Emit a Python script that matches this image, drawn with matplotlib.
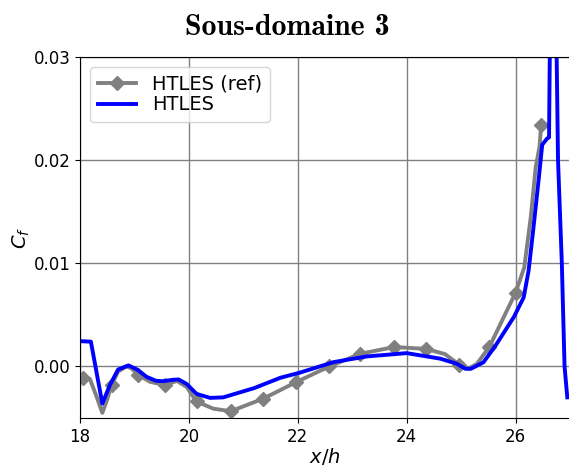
import matplotlib
matplotlib.use('Agg')
import matplotlib.pyplot as plt

# frottement parietal, reference HTLES
x_ref = [18.0, 18.06, 18.18, 18.31, 18.41, 18.5, 18.58, 18.7, 18.85, 18.95, 19.06, 19.29,
         19.56, 19.78, 19.96, 20.14, 20.45, 20.77, 21.36, 21.97, 22.58, 23.15, 23.77, 24.36,
         24.7, 24.97, 25.14, 25.29, 25.52, 26.0, 26.16, 26.28, 26.37, 26.44, 26.47]
cf_ref = [-0.0010, -0.00117, -0.0012, -0.0030, -0.0045, -0.0032, -0.0018, -0.0005, 0.0,
          -0.0002, -0.0008, -0.0015, -0.0018, -0.0014, -0.0020, -0.0034, -0.0041, -0.00434,
          -0.00314, -0.00152, 0.0, 0.00123, 0.00188, 0.0017, 0.0012, 0.00016, -0.0002,
          0.00025, 0.0019, 0.00715, 0.0096, 0.0145, 0.0193, 0.0213, 0.0234]
marqueurs = [1, 6, 10, 12, 15, 17, 18, 19, 20, 21, 22, 23, 25, 28, 29, 34]

# frottement parietal, calcul HTLES
x_htles = [18.0, 18.2, 18.41, 18.55, 18.7, 18.89, 19.05, 19.22, 19.4, 19.53, 19.7, 19.81,
           19.96, 20.14, 20.39, 20.63, 21.2, 21.68, 22.04, 22.66, 23.27, 24.0, 24.62, 24.92,
           25.08, 25.18, 25.41, 25.63, 25.97, 26.15, 26.24, 26.33, 26.43, 26.49, 26.58,
           26.615, 26.68, 26.78, 26.85, 26.9, 26.95]
cf_htles = [0.00245, 0.0024, -0.0036, -0.0018, -0.0003, 0.0001, -0.0003, -0.0010, -0.0014,
            -0.00143, -0.0013, -0.00126, -0.0017, -0.00266, -0.00305, -0.0030, -0.0021,
            -0.0011, -0.0006, 0.00042, 0.00097, 0.00129, 0.00075, 0.00026, -0.00023,
            -0.00023, 0.0004, 0.0020, 0.0048, 0.0067, 0.0093, 0.0135, 0.0184, 0.0215,
            0.0221, 0.0222, 0.06, 0.02, 0.01, 0.0, -0.003]

fig = plt.figure(figsize=(5.69, 4.67), dpi=100)
ax = fig.add_axes([80 / 569, 49 / 467, 490 / 569, 361 / 467])

ax.plot(x_ref, cf_ref, color='gray', linewidth=2.8, marker='D', markersize=7,
        markevery=marqueurs, label='HTLES (ref)')
ax.plot(x_htles, cf_htles, color='blue', linewidth=2.8, label='HTLES')

ax.set_xlim(18, 27)
ax.set_ylim(-0.005, 0.03)
ax.set_xticks([18, 20, 22, 24, 26])
ax.set_yticks([0.0, 0.01, 0.02, 0.03])
ax.tick_params(labelsize=12)
ax.grid(color='gray', linewidth=1)
ax.set_axisbelow(True)

ax.set_xlabel('$x/h$', fontsize=14, labelpad=0)
ax.set_ylabel('$C_f$', fontsize=14, labelpad=1)
fig.text(287 / 569, 1 - 35 / 467, 'Sous-domaine 3', family='cmb10', fontsize=21.5,
         ha='center', va='baseline')

ax.legend(loc='upper left', fontsize=14, handlelength=2, labelspacing=0.1,
          borderpad=0.4)

fig.savefig('out.png', dpi=100)
